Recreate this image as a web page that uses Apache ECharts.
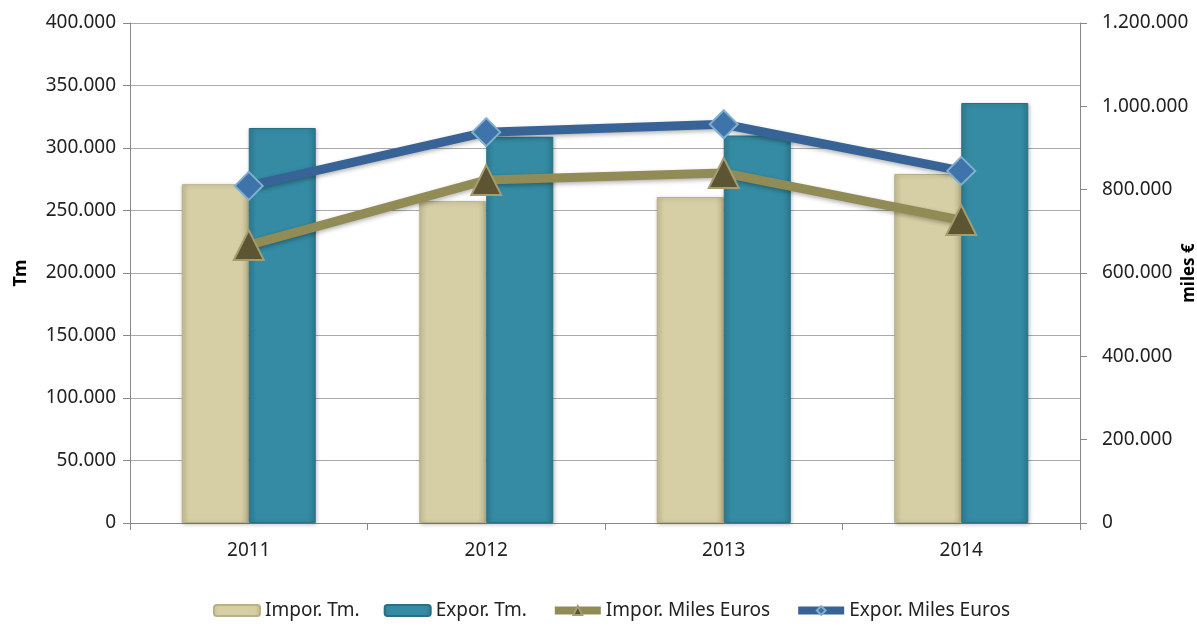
<!DOCTYPE html>
<html><head><meta charset="utf-8">
<script src="https://cdn.jsdelivr.net/npm/echarts@6/dist/echarts.min.js"></script>
<style>html,body{margin:0;padding:0;background:#fff}#c{width:1197px;height:627px}</style>
</head><body><div id="c"></div>
<script>
const categories = ['2011', '2012', '2013', '2014'];
const imporTm = [271000, 257500, 260800, 279200];
const exporTm = [316000, 309000, 310000, 336000];
const imporEuros = [667000, 823000, 840000, 727000];
const exporEuros = [809000, 938000, 957000, 845000];
const leftTicks = [0, 50000, 100000, 150000, 200000, 250000, 300000, 350000, 400000];
const rightTicks = [0, 200000, 400000, 600000, 800000, 1000000, 1200000];

const fmt = v => v === 0 ? '0' : String(v).replace(/\B(?=(\d{3})+(?!\d))/g, '.');
const font = 'Noto Sans';
const chart = echarts.init(document.getElementById('c'));
chart.setOption({
  animation: false,
  textStyle: { fontFamily: font },
  grid: { left: 130, right: 117, top: 23, bottom: 104, outerBoundsMode: 'none', containLabel: false },
  legend: {
    bottom: 2, left: 208, itemGap: 24, itemWidth: 46, itemHeight: 11,
    textStyle: { fontFamily: font, fontSize: 19, color: '#222' },
    data: [
      { name: 'Impor. Tm.' },
      { name: 'Expor. Tm.' },
      { name: 'Impor. Miles Euros', lineStyle: { width: 8 } },
      { name: 'Expor. Miles Euros', lineStyle: { width: 8 } }
    ]
  },
  xAxis: {
    type: 'category', data: categories,
    axisLine: { lineStyle: { color: '#888' } },
    axisTick: { show: true, length: 7, lineStyle: { color: '#888' } },
    axisLabel: { color: '#222', fontSize: 19, margin: 18 }
  },
  yAxis: [{
    type: 'value', min: 0, max: 400000, interval: 50000,
    name: 'Tm', nameLocation: 'middle', nameGap: 100, nameRotate: 90, nameMoveOverlap: false,
    nameTextStyle: { fontWeight: 'bold', fontSize: 18, color: '#000' },
    axisLine: { show: true, lineStyle: { color: '#888' } },
    axisTick: { show: true, length: 7, lineStyle: { color: '#888' } },
    splitLine: { lineStyle: { color: '#aaa' } },
    axisLabel: { color: '#222', fontSize: 19, margin: 14, formatter: fmt }
  }, {
    type: 'value', min: 0, max: 1200000, interval: 200000,
    name: 'miles €', nameLocation: 'middle', nameGap: 101, nameRotate: 90, nameMoveOverlap: false,
    nameTextStyle: { fontWeight: 'bold', fontSize: 17, color: '#000' },
    axisLine: { show: true, lineStyle: { color: '#888' } },
    axisTick: { show: true, length: 7, lineStyle: { color: '#888' } },
    splitLine: { show: false },
    axisLabel: { color: '#222', fontSize: 19, margin: 22, formatter: fmt }
  }],
  series: [{
    name: 'Impor. Tm.', type: 'bar', data: imporTm, barWidth: 67, barGap: '0%',
    itemStyle: {
      color: new echarts.graphic.LinearGradient(0, 0, 1, 0, [
        { offset: 0, color: '#c9c196' }, { offset: 0.12, color: '#d6cfa6' },
        { offset: 0.88, color: '#d6cfa6' }, { offset: 1, color: '#bdb58a' }]),
      borderColor: '#b8b088', borderWidth: 1,
      shadowColor: 'rgba(0,0,0,0.25)', shadowBlur: 4, shadowOffsetX: 1, shadowOffsetY: 1
    }
  }, {
    name: 'Expor. Tm.', type: 'bar', data: exporTm, barWidth: 67,
    itemStyle: {
      color: new echarts.graphic.LinearGradient(0, 0, 1, 0, [
        { offset: 0, color: '#2f7f96' }, { offset: 0.12, color: '#348ba3' },
        { offset: 0.88, color: '#348ba3' }, { offset: 1, color: '#2c7a90' }]),
      borderColor: '#2a7085', borderWidth: 1,
      shadowColor: 'rgba(0,0,0,0.25)', shadowBlur: 4, shadowOffsetX: 1, shadowOffsetY: 1
    }
  }, {
    name: 'Impor. Miles Euros', type: 'line', yAxisIndex: 1, data: imporEuros,
    symbol: 'triangle', symbolSize: 30,
    lineStyle: { color: '#918b55', width: 9, shadowColor: 'rgba(0,0,0,0.3)', shadowBlur: 4, shadowOffsetY: 2 },
    itemStyle: { color: '#5c5433', borderColor: '#a39d70', borderWidth: 2 },
    z: 5
  }, {
    name: 'Expor. Miles Euros', type: 'line', yAxisIndex: 1, data: exporEuros,
    symbol: 'diamond', symbolSize: 28,
    lineStyle: { color: '#386397', width: 9, shadowColor: 'rgba(0,0,0,0.3)', shadowBlur: 4, shadowOffsetY: 2 },
    itemStyle: { color: '#3f74aa', borderColor: '#7fb0cf', borderWidth: 2 },
    z: 6
  }]
});
</script></body></html>
